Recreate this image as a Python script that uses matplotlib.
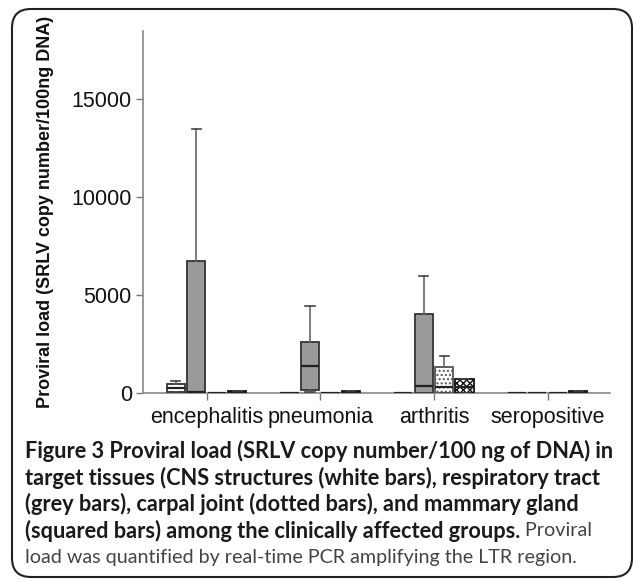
import matplotlib
matplotlib.use("Agg")
import matplotlib.pyplot as plt
from matplotlib.patches import FancyBboxPatch

# ---- data ----
groups = ["encephalitis", "pneumonia", "arthritis", "seropositive"]
tissues = ["CNS", "respiratory", "carpal", "mammary"]

# box stats per tissue, one value per group
cns_whislo = [0, 0, 0, 0]
cns_q1 = [50, 0, 0, 0]
cns_med = [250, 0, 0, 0]
cns_q3 = [480, 0, 0, 0]
cns_whishi = [600, 0, 0, 0]

resp_whislo = [0, 50, 0, 0]
resp_q1 = [0, 150, 0, 0]
resp_med = [30, 1380, 360, 0]
resp_q3 = [6760, 2610, 4050, 0]
resp_whishi = [13470, 4450, 5990, 0]

carp_whislo = [0, 0, 0, 0]
carp_q1 = [0, 0, 0, 0]
carp_med = [0, 0, 300, 0]
carp_q3 = [0, 0, 1330, 0]
carp_whishi = [0, 0, 1900, 0]

mam_whislo = [0, 0, 0, 0]
mam_q1 = [0, 0, 0, 0]
mam_med = [0, 0, 300, 0]
mam_q3 = [120, 120, 700, 120]
mam_whishi = [120, 120, 700, 120]

yticks = [0, 5000, 10000, 15000]
ylabel = "Proviral load (SRLV copy number/100ng DNA)"

caption_lines = [
    [("Figure 3 Proviral load (SRLV copy number/100 ng of DNA) in", "bold")],
    [("target tissues (CNS structures (white bars), respiratory tract", "bold")],
    [("(grey bars), carpal joint (dotted bars), and mammary gland", "bold")],
    [("(squared bars) among the clinically affected groups.", "bold"), (" Proviral", "normal")],
    [("load was quantified by real-time PCR amplifying the LTR region.", "normal")],
]

# ---- figure ----
W, H = 633, 581
fig = plt.figure(figsize=(W / 100, H / 100), dpi=100)
ax = fig.add_axes([143 / W, (H - 393) / H, (610 - 143) / W, (393 - 31) / H])

offsets = [-0.27, -0.09, 0.09, 0.27]
width = 0.16
styles = [
    dict(facecolor="white", hatch=None, edgecolor="#333333"),
    dict(facecolor="#9a9a9a", hatch=None, edgecolor="#333333"),
    dict(facecolor="white", hatch="....", edgecolor="#555555"),
    dict(facecolor="white", hatch="xxxxx", edgecolor="#111111"),
]
data = [
    (cns_whislo, cns_q1, cns_med, cns_q3, cns_whishi),
    (resp_whislo, resp_q1, resp_med, resp_q3, resp_whishi),
    (carp_whislo, carp_q1, carp_med, carp_q3, carp_whishi),
    (mam_whislo, mam_q1, mam_med, mam_q3, mam_whishi),
]

for t, (wl, q1, md, q3, wh) in enumerate(data):
    stats = []
    for g in range(len(groups)):
        stats.append(dict(whislo=wl[g], q1=q1[g], med=md[g], q3=q3[g], whishi=wh[g], fliers=[]))
    pos = [g + offsets[t] for g in range(len(groups))]
    st = styles[t]
    bp = ax.bxp(stats, positions=pos, widths=width, patch_artist=True,
                showfliers=False, manage_ticks=False,
                boxprops=dict(facecolor=st["facecolor"], edgecolor=st["edgecolor"], linewidth=1.3),
                medianprops=dict(color="#222222", linewidth=1.6),
                whiskerprops=dict(color="#666666", linewidth=1.2),
                capprops=dict(color="#444444", linewidth=1.2))
    for key in ["boxes", "medians", "whiskers", "caps"]:
        for a in bp[key]:
            a.set_zorder(3 if key != "medians" else 4)
    if st["hatch"]:
        for b in bp["boxes"]:
            b.set_hatch(st["hatch"])

ax.set_xlim(-0.56, 3.55)
ax.set_ylim(0, 18500)
ax.set_xticks(range(len(groups)))
ax.set_xticklabels(groups)
ax.set_yticks(yticks)
ax.tick_params(axis="both", labelsize=15.5, color="#777777", length=5, width=1)
ax.tick_params(axis="x", pad=5)
ax.tick_params(axis="y", pad=3)
for lab in ax.get_xticklabels() + ax.get_yticklabels():
    lab.set_family("Liberation Sans")
    lab.set_color("#111111")
for s in ["top", "right"]:
    ax.spines[s].set_visible(False)
for s in ["left", "bottom"]:
    ax.spines[s].set_color("#888888")
    ax.spines[s].set_linewidth(1.2)
ax.set_ylabel(ylabel, fontsize=13, fontweight="bold", family="Liberation Sans", color="#111111")
ax.yaxis.set_label_coords(-0.19, 0.50)

# ---- caption ----
renderer = fig.canvas.get_renderer()
line_y = [451, 478, 504, 531, 557]
for line, yc in zip(caption_lines, line_y):
    x = 25
    for txt, wt in line:
        color = "#1a1a1a" if wt == "bold" else "#444444"
        fs = 15.7 if wt == "bold" else 14.2
        t = fig.text(x / W, 1 - yc / H, txt, fontsize=fs, fontweight=wt, family="Lato",
                     color=color, va="center", ha="left")
        bb = t.get_window_extent(renderer=renderer)
        x = bb.x1

# ---- rounded border ----
box = FancyBboxPatch((12 / W, 4 / H), (632 - 12) / W, (572 - 4) / H,
                     boxstyle="round,pad=0,rounding_size=0.03",
                     transform=fig.transFigure, fill=False, edgecolor="#222222",
                     linewidth=1.5, clip_on=False, mutation_aspect=W / H)
fig.patches.append(box)

fig.savefig("out.png", dpi=100)
